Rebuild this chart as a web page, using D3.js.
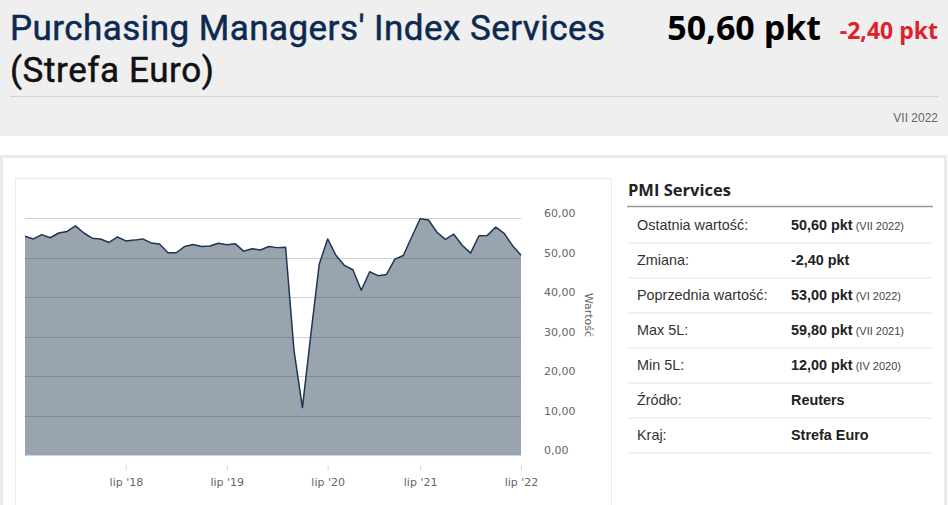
<!DOCTYPE html>
<html>
<head>
<meta charset="utf-8">
<script src="https://cdn.jsdelivr.net/npm/d3@7"></script>
<style>
  body { margin: 0; background: #fff; overflow: hidden; }
  svg { display: block; }
</style>
</head>
<body>
<div id="page"></div>
<script>
// PMI Services (Strefa Euro), monthly values VII 2017 - VII 2022
var months = ["2017-07","2017-08","2017-09","2017-10","2017-11","2017-12",
  "2018-01","2018-02","2018-03","2018-04","2018-05","2018-06","2018-07","2018-08","2018-09","2018-10","2018-11","2018-12",
  "2019-01","2019-02","2019-03","2019-04","2019-05","2019-06","2019-07","2019-08","2019-09","2019-10","2019-11","2019-12",
  "2020-01","2020-02","2020-03","2020-04","2020-05","2020-06","2020-07","2020-08","2020-09","2020-10","2020-11","2020-12",
  "2021-01","2021-02","2021-03","2021-04","2021-05","2021-07","2021-08","2021-09","2021-10","2021-11","2021-12",
  "2022-01","2022-02","2022-03","2022-04","2022-05","2022-06","2022-07"];
var values = [55.4,54.7,55.8,55.0,56.2,56.6,
  58.0,56.2,54.9,54.7,53.8,55.2,54.2,54.4,54.7,53.7,53.4,51.2,
  51.2,52.8,53.3,52.8,52.9,53.6,53.2,53.5,51.6,52.2,51.9,52.8,
  52.5,52.6,26.4,12.0,30.5,48.3,54.7,50.5,48.0,46.9,41.7,46.4,
  45.4,45.7,49.6,50.5,55.2,59.8,59.5,56.4,54.6,55.9,53.1,
  51.1,55.5,55.6,57.7,56.1,53.0,50.6];
var xTicks = ["2018-07","2019-07","2020-07","2021-07","2022-07"];
var xTickLabels = ["lip '18","lip '19","lip '20","lip '21","lip '22"];
var yTicks = [0, 10, 20, 30, 40, 50, 60];

var rowLabels = ["Ostatnia wartość:", "Zmiana:", "Poprzednia wartość:", "Max 5L:", "Min 5L:", "Źródło:", "Kraj:"];
var rowValues = ["50,60 pkt", "-2,40 pkt", "53,00 pkt", "59,80 pkt", "12,00 pkt", "Reuters", "Strefa Euro"];
var rowNotes = ["(VII 2022)", "", "(VI 2022)", "(VII 2021)", "(IV 2020)", "", ""];

var width = 948, height = 505;
var pl = d3.formatLocale({decimal: ",", thousands: " ", grouping: [3], currency: ["", " zł"]});
var fmt = pl.format(".2f");

var svg = d3.select("#page").append("svg")
    .attr("width", width)
    .attr("height", height);

// header
svg.append("rect").attr("x", 0).attr("y", 0).attr("width", width).attr("height", 136).attr("fill", "#efefef");
svg.append("text").attr("x", 10).attr("y", 40)
    .style("font", "35px Roboto")
    .attr("textLength", 595).attr("lengthAdjust", "spacing")
    .attr("fill", "#0c2a50").attr("stroke", "#0c2a50").attr("stroke-width", 0.5)
    .text("Purchasing Managers' Index Services");
svg.append("text").attr("x", 10).attr("y", 81.5)
    .style("font", "35px Roboto")
    .attr("textLength", 204).attr("lengthAdjust", "spacing")
    .attr("fill", "#111").attr("stroke", "#111").attr("stroke-width", 0.5)
    .text("(Strefa Euro)");
svg.append("text").attr("x", 821).attr("y", 40).attr("text-anchor", "end")
    .style("font", "bold 34px 'Open Sans'").attr("fill", "#000")
    .text("50,60 pkt");
svg.append("text").attr("x", 938).attr("y", 39).attr("text-anchor", "end")
    .style("font", "bold 23px 'Open Sans'").attr("fill", "#e3202a")
    .text("-2,40 pkt");
svg.append("line").attr("x1", 10).attr("x2", 938).attr("y1", 96.5).attr("y2", 96.5)
    .attr("stroke", "#d2d2d2");
svg.append("text").attr("x", 938).attr("y", 122).attr("text-anchor", "end")
    .style("font", "12px 'Liberation Sans'").attr("fill", "#666")
    .text("VII 2022");

// panels
svg.append("rect").attr("x", 1.5).attr("y", 156.5).attr("width", 944).attr("height", 420)
    .attr("fill", "none").attr("stroke", "#ebebeb").attr("stroke-width", 3);
svg.append("rect").attr("x", 15.5).attr("y", 178.5).attr("width", 596).attr("height", 400)
    .attr("fill", "none").attr("stroke", "#ececec");

// chart
var x = d3.scalePoint().domain(months).range([25, 521]),
    y = d3.scaleLinear().domain([0, 60]).range([455, 218]);

var data = months.map(function(m, i) { return {m: m, v: values[i]}; });

var chart = svg.append("g");

chart.selectAll(".grid")
    .data(yTicks)
    .enter().append("line")
    .attr("class", "grid")
    .attr("x1", 25).attr("x2", 521)
    .attr("y1", function(d) { return Math.round(y(d)) + 0.5; })
    .attr("y2", function(d) { return Math.round(y(d)) + 0.5; })
    .attr("stroke", "#e6e6e6");

chart.append("path")
    .datum(data)
    .attr("fill", "#34495e")
    .attr("fill-opacity", 0.5)
    .attr("d", d3.area()
        .x(function(d) { return x(d.m); })
        .y0(y(0))
        .y1(function(d) { return y(d.v); }));

// grid lines show through the area a little darker
chart.selectAll(".grid2")
    .data(yTicks.filter(function(d) { return d > 0; }))
    .enter().append("line")
    .attr("x1", 25).attr("x2", 521)
    .attr("y1", function(d) { return Math.round(y(d)) + 0.5; })
    .attr("y2", function(d) { return Math.round(y(d)) + 0.5; })
    .attr("stroke", "#1d2b3d")
    .attr("stroke-opacity", 0.12);

chart.append("path")
    .datum(data)
    .attr("fill", "none")
    .attr("stroke", "#1f3556")
    .attr("stroke-width", 1.5)
    .attr("stroke-linejoin", "round")
    .attr("d", d3.line()
        .x(function(d) { return x(d.m); })
        .y(function(d) { return y(d.v); }));

chart.append("line").attr("x1", 25).attr("x2", 521).attr("y1", 455.5).attr("y2", 455.5)
    .attr("stroke", "#ccd6eb");

var yAxis = chart.append("g")
    .attr("transform", "translate(544,-5)")
    .call(d3.axisRight(y).tickValues(yTicks).tickSize(0).tickPadding(0).tickFormat(fmt));
yAxis.select(".domain").remove();
yAxis.selectAll("text").style("font", "11px 'DejaVu Sans'").attr("fill", "#666");

chart.append("text")
    .attr("transform", "translate(585,315) rotate(90)")
    .attr("text-anchor", "middle")
    .style("font", "11px 'DejaVu Sans'").attr("fill", "#666")
    .text("Wartość");

var xAxis = chart.append("g")
    .attr("transform", "translate(0,465)")
    .call(d3.axisBottom(x).tickValues(xTicks).tickSize(5).tickPadding(8)
        .tickFormat(function(d) { return xTickLabels[xTicks.indexOf(d)]; }));
xAxis.select(".domain").remove();
xAxis.selectAll("line").attr("stroke", "#ccd6eb");
xAxis.selectAll("text").style("font", "11px 'DejaVu Sans'").attr("fill", "#666");

// side table
svg.append("text").attr("x", 628).attr("y", 196)
    .style("font", "bold 16.5px 'Open Sans'").attr("fill", "#222")
    .text("PMI Services");
svg.append("line").attr("x1", 627).attr("x2", 933).attr("y1", 206.5).attr("y2", 206.5)
    .attr("stroke", "#999").attr("stroke-width", 1.5);

var rows = svg.selectAll(".row")
    .data(rowLabels)
    .enter().append("g")
    .attr("class", "row")
    .attr("transform", function(d, i) { return "translate(0," + (207 + i * 35) + ")"; });

rows.append("line").attr("x1", 627).attr("x2", 933).attr("y1", 36).attr("y2", 36)
    .attr("stroke", "#ececec").attr("stroke-width", 1.5);
rows.append("text").attr("x", 637).attr("y", 23)
    .style("font", "14.4px 'Liberation Sans'").attr("fill", "#333")
    .text(function(d) { return d; });
var vt = rows.append("text").attr("x", 791).attr("y", 23)
    .style("font", "bold 14.4px 'Liberation Sans'").attr("fill", "#222");
vt.append("tspan").text(function(d, i) { return rowValues[i]; });
vt.append("tspan")
    .style("font", "11px 'Liberation Sans'").attr("fill", "#444")
    .text(function(d, i) { return rowNotes[i] ? " " + rowNotes[i] : ""; });
</script>
</body>
</html>
